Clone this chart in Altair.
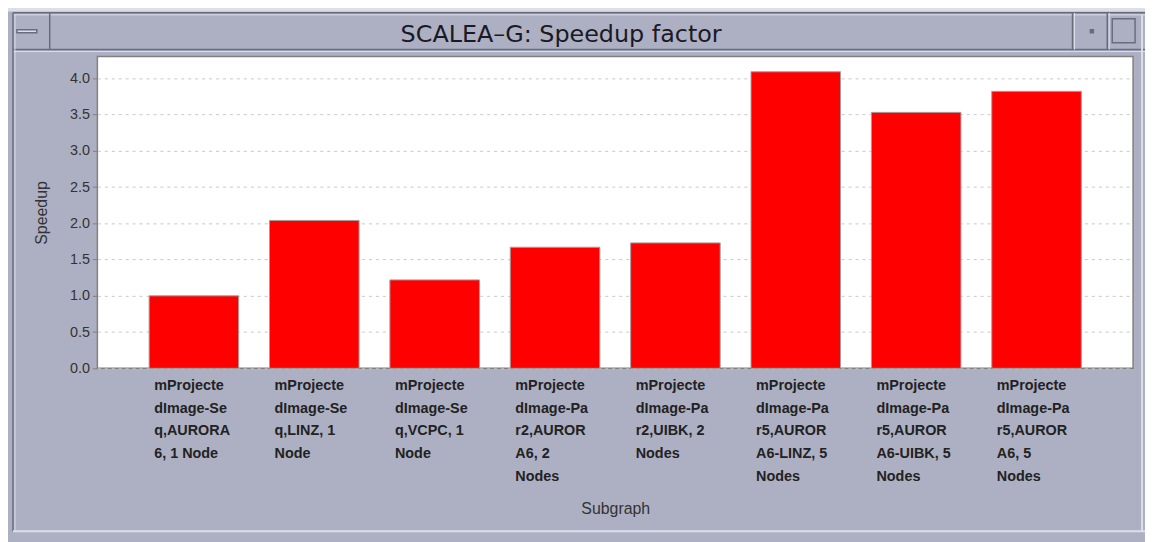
import altair as alt
import pandas as pd

# Category labels (wrapped lines separated by "|")
categories = [
    "mProjecte|dImage-Se|q,AURORA|6, 1 Node",
    "mProjecte|dImage-Se|q,LINZ, 1|Node",
    "mProjecte|dImage-Se|q,VCPC, 1|Node",
    "mProjecte|dImage-Pa|r2,AUROR|A6, 2|Nodes",
    "mProjecte|dImage-Pa|r2,UIBK, 2|Nodes",
    "mProjecte|dImage-Pa|r5,AUROR|A6-LINZ, 5|Nodes",
    "mProjecte|dImage-Pa|r5,AUROR|A6-UIBK, 5| Nodes",
    "mProjecte|dImage-Pa|r5,AUROR|A6, 5|Nodes",
]
speedup = [1.0, 2.04, 1.22, 1.67, 1.73, 4.09, 3.53, 3.82]
y_ticks = [0.0, 0.5, 1.0, 1.5, 2.0, 2.5, 3.0, 3.5, 4.0]
window_title = "SCALEA\u2013G: Speedup factor"

df = pd.DataFrame({"Subgraph": categories, "Speedup": speedup})
one = pd.DataFrame({"k": [0]})

bg = "#adb0c3"
dark = "#6a6c7c"
light = "#dcdee8"

bars = (
    alt.Chart(df)
    .mark_bar(color="#ff0000", stroke="#a0a0a0", strokeWidth=1)
    .encode(
        x=alt.X(
            "Subgraph:N",
            sort=None,
            scale=alt.Scale(paddingInner=0.256, paddingOuter=0.43),
            axis=alt.Axis(
                title="Subgraph",
                labelExpr="split(datum.value, '|')",
                labelAngle=0,
                labelAlign="left",
                labelBaseline="top",
                labelOffset=-40,
                labelPadding=10,
                labelLineHeight=23,
                labelFont="Liberation Sans",
                labelFontSize=14.5,
                labelFontWeight="bold",
                labelColor="#222222",
                ticks=False,
                domain=False,
                titleFont="Liberation Sans",
                titleFontSize=16,
                titleFontWeight="normal",
                titleColor="#333333",
                titlePadding=18,
            ),
        ),
        y=alt.Y(
            "Speedup:Q",
            scale=alt.Scale(domain=[0, 4.3], nice=False),
            axis=alt.Axis(
                title="Speedup",
                values=y_ticks,
                format=".1f",
                labelFont="Liberation Sans",
                labelFontSize=14.5,
                labelColor="#333333",
                labelPadding=3,
                tickSize=5,
                tickColor="#808080",
                domain=False,
                grid=True,
                gridColor="#c8c8c8",
                gridDash=[3, 4],
                gridWidth=1,
                titleFont="Liberation Sans",
                titleFontSize=16,
                titleFontWeight="normal",
                titleColor="#333333",
                titlePadding=20,
            ),
        ),
    )
)


# window-frame decoration (title bar lines and buttons)
def hline(y, x1, x2, color, w=1.5):
    return alt.Chart(one).mark_rule(color=color, strokeWidth=w).encode(
        x=alt.value(x1), x2=alt.value(x2), y=alt.value(y)
    )


def vline(x, y1, y2, color, w=1.5):
    return alt.Chart(one).mark_rule(color=color, strokeWidth=w).encode(
        x=alt.value(x), y=alt.value(y1), y2=alt.value(y2)
    )


def box(x1, x2, y1, y2, fill, stroke):
    return alt.Chart(one).mark_rect(fill=fill, stroke=stroke, strokeWidth=1.5).encode(
        x=alt.value(x1), x2=alt.value(x2), y=alt.value(y1), y2=alt.value(y2)
    )


deco = [
    box(-98, 1060, -55, -46, light, light),
    hline(-44, -85, 1060, dark),
    hline(-42, -85, 1060, light, 1),
    hline(-7, -85, 1060, dark),
    hline(-5, -85, 1060, light, 1),
    vline(-85, -44, 478, dark),
    vline(-83, -42, 478, light, 1),
    vline(-48, -44, -7, dark),
    vline(982, -44, -7, dark),
    vline(984, -44, -7, light, 1),
    vline(1017, -44, -7, dark),
    vline(1019, -44, -7, light, 1),
    vline(1052, -42, 478, light, 2),
    hline(478, -85, 1060, light, 2),
    box(-81, -61, -27, -24, light, dark),
    box(1022, 1045, -38, -14, bg, dark),
    box(1000, 1003, -27, -24, dark, dark),
]

title_text = alt.Chart(one).mark_text(
    text=window_title,
    font="DejaVu Sans",
    fontSize=24,
    color="#1a1a24",
    align="center",
    baseline="alphabetic",
).encode(x=alt.value(467), y=alt.value(-15))

chart = (
    alt.layer(bars, *deco, title_text)
    .properties(
        width=1043,
        height=314,
        background=bg,
        padding={"left": 90, "top": 47, "right": 12, "bottom": 173},
        autosize=alt.AutoSizeParams(type="none"),
    )
    .configure_view(fill="white", stroke="#808080", strokeWidth=1.5)
)

chart.save("out.html", embed_options={"renderer": "svg", "actions": False})
